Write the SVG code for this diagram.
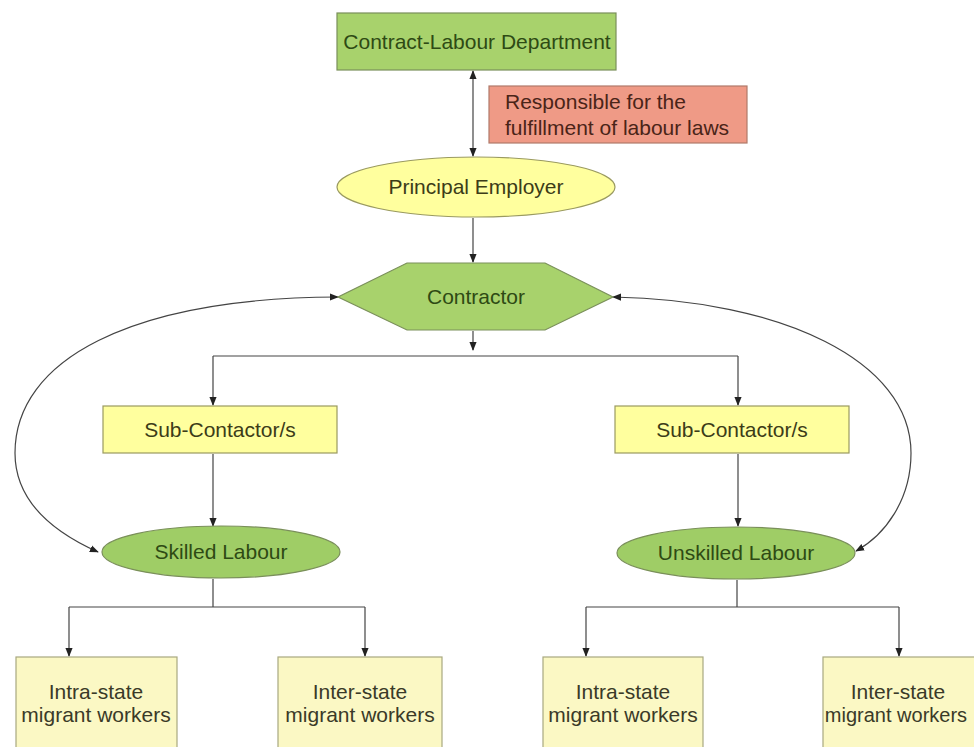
<svg xmlns="http://www.w3.org/2000/svg" width="974" height="747" viewBox="0 0 974 747">
<defs>
<marker id="arr" viewBox="0 0 10 10" refX="9" refY="5" markerWidth="9" markerHeight="9" markerUnits="userSpaceOnUse" orient="auto-start-reverse">
<path d="M0,1 L10,5 L0,9 Z" fill="#222"/>
</marker>
<style>
.t{font-family:"Liberation Sans",Arial,sans-serif;font-size:21px;text-anchor:middle}
.c{fill:none;stroke:#444;stroke-width:1.2}
.g{fill:#a8d26c;stroke:#7a8f5a;stroke-width:1.2}
.y{fill:#ffff9e;stroke:#9a9a60;stroke-width:1.2}
.p{fill:#fbf8c4;stroke:#a8a880;stroke-width:1.2}
</style>
</defs>
<rect width="974" height="747" fill="#ffffff"/>
<g id="connectors">
<path class="c" d="M473,71 L473,156" marker-start="url(#arr)" marker-end="url(#arr)"/>
<path class="c" d="M473,218 L473,262" marker-end="url(#arr)"/>
<path class="c" d="M473,331 L473,350" marker-end="url(#arr)"/>
<path class="c" d="M213,356 L738,356"/>
<path class="c" d="M213,356 L213,405" marker-end="url(#arr)"/>
<path class="c" d="M738,356 L738,405" marker-end="url(#arr)"/>
<path class="c" d="M213,454 L213,526" marker-end="url(#arr)"/>
<path class="c" d="M738,454 L738,526" marker-end="url(#arr)"/>
<path class="c" d="M338,297 C130,298 15,360 15,453 C15,505 60,535 98,552" marker-start="url(#arr)" marker-end="url(#arr)"/>
<path class="c" d="M613,297 C780,300 911,360 911,453 C911,500 885,535 856,551" marker-start="url(#arr)" marker-end="url(#arr)"/>
<path class="c" d="M213,579 L213,607 M69,607 L365,607"/>
<path class="c" d="M69,607 L69,656" marker-end="url(#arr)"/>
<path class="c" d="M365,607 L365,656" marker-end="url(#arr)"/>
<path class="c" d="M737,580 L737,607 M586,607 L899,607"/>
<path class="c" d="M586,607 L586,656" marker-end="url(#arr)"/>
<path class="c" d="M899,607 L899,656" marker-end="url(#arr)"/>
</g>
<g id="dept">
<rect class="g" x="337" y="13" width="279" height="57"/>
<text class="t" x="477" y="49" fill="#2e4a14">Contract-Labour Department</text>
</g>
<g id="note">
<rect x="489" y="86" width="258" height="57" fill="#ef9a86" stroke="#b07a6a" stroke-width="1.2"/>
<text class="t" x="505" y="109" fill="#4a2418" style="text-anchor:start">Responsible for the</text>
<text class="t" x="505" y="135" fill="#4a2418" style="text-anchor:start">fulfillment of labour laws</text>
</g>
<g id="principal">
<ellipse class="y" cx="476" cy="187" rx="139" ry="30"/>
<text class="t" x="476" y="194" fill="#3c3c18">Principal Employer</text>
</g>
<g id="contractor">
<polygon class="g" points="407,263 545,263 613,297 545,330 407,330 338,297" fill="#9fcd66"/>
<text class="t" x="476" y="304" fill="#2e4a14">Contractor</text>
</g>
<g id="sub1">
<rect class="y" x="103" y="406" width="234" height="47" fill="#fdf99a"/>
<text class="t" x="220" y="437" fill="#3c3c18">Sub-Contactor/s</text>
</g>
<g id="sub2">
<rect class="y" x="615" y="406" width="234" height="47" fill="#fdf99a"/>
<text class="t" x="732" y="437" fill="#3c3c18">Sub-Contactor/s</text>
</g>
<g id="skilled">
<ellipse class="g" cx="221" cy="552" rx="119" ry="26" style="fill:#9fcd66"/>
<text class="t" x="221" y="559" fill="#2e4a14">Skilled Labour</text>
</g>
<g id="unskilled">
<ellipse class="g" cx="736" cy="553" rx="119" ry="26" style="fill:#9fcd66"/>
<text class="t" x="736" y="560" fill="#2e4a14">Unskilled Labour</text>
</g>
<g id="intra1">
<rect class="p" x="16" y="657" width="161" height="100"/>
<text class="t" x="96" y="699" fill="#3a3a28">Intra-state</text>
<text class="t" x="96" y="722" fill="#3a3a28">migrant workers</text>
</g>
<g id="inter1">
<rect class="p" x="278" y="657" width="164" height="100"/>
<text class="t" x="360" y="699" fill="#3a3a28">Inter-state</text>
<text class="t" x="360" y="722" fill="#3a3a28">migrant workers</text>
</g>
<g id="intra2">
<rect class="p" x="543" y="657" width="160" height="100"/>
<text class="t" x="623" y="699" fill="#3a3a28">Intra-state</text>
<text class="t" x="623" y="722" fill="#3a3a28">migrant workers</text>
</g>
<g id="inter2">
<rect class="p" x="823" y="657" width="170" height="100"/>
<text class="t" x="898" y="699" fill="#3a3a28">Inter-state</text>
<text class="t" x="896" y="722" fill="#3a3a28" style="font-size:20px">migrant workers</text>
</g>
</svg>
